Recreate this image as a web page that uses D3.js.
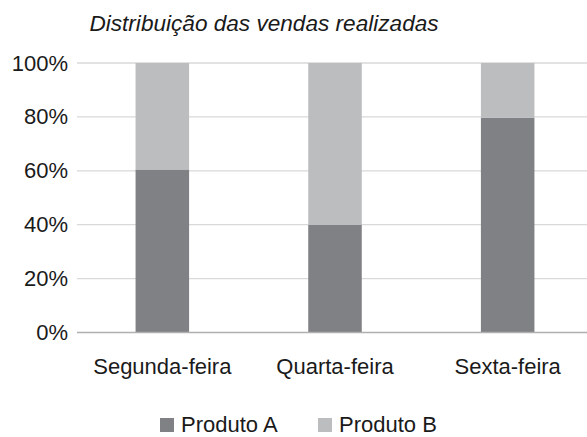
<!DOCTYPE html>
<html><head><meta charset="utf-8">
<script src="https://cdn.jsdelivr.net/npm/d3@7"></script>
<style>body{margin:0;background:#fff}svg{display:block}text{font-family:Arial,"Liberation Sans",Helvetica,sans-serif}</style>
</head><body>
<svg id="c" width="587" height="437"></svg>
<script>
const categories = ["Segunda-feira", "Quarta-feira", "Sexta-feira"];
const seriesNames = ["Produto A", "Produto B"];
const produtoA = [60.5, 40, 79.7];
const produtoB = [39.5, 60, 20.3];
const yTicks = [0, 20, 40, 60, 80, 100];
const colors = ["#808184", "#bcbdbf"];
const chartTitle = "Distribuição das vendas realizadas";

(function () {
const svg = d3.select("#c");
const pLeft = 76, pRight = 594, pTop = 63, pBottom = 332.5;

const x = d3.scaleBand().domain(categories).range([pLeft, pRight]).paddingInner(0.69).paddingOuter(0.345);
const y = d3.scaleLinear().domain([0, 100]).range([pBottom, pTop]);

// gridlines
svg.append("g").selectAll("line").data(yTicks.filter(t => t > 0)).join("line")
  .attr("x1", pLeft + 1).attr("x2", 587)
  .attr("y1", d => y(d)).attr("y2", d => y(d))
  .attr("stroke", "#d9d9d9").attr("stroke-width", 1.3);

// stacked bars
const table = categories.map((c, i) => ({cat: c, "Produto A": produtoA[i], "Produto B": produtoB[i]}));
const stack = d3.stack().keys(seriesNames)(table);
svg.append("g").selectAll("g").data(stack).join("g")
  .attr("fill", (d, i) => colors[i])
  .selectAll("rect").data(d => d).join("rect")
  .attr("x", d => x(d.data.cat))
  .attr("width", x.bandwidth())
  .attr("y", d => y(d[1]))
  .attr("height", d => y(d[0]) - y(d[1]));

// x axis line
svg.append("line").attr("x1", pLeft + 1).attr("x2", 587)
  .attr("y1", y(0)).attr("y2", y(0))
  .attr("stroke", "#b0b0b0").attr("stroke-width", 1.3);

// y axis labels
const yAxis = d3.axisLeft(y).tickValues(yTicks).tickFormat(d => d + "%").tickSize(0).tickPadding(8);
const ga = svg.append("g").attr("transform", `translate(${pLeft},0)`).call(yAxis);
ga.select(".domain").remove();
ga.attr("font-family", null);
ga.selectAll("text").attr("font-size", 22).attr("fill", "#1a1a1a");

// x axis labels
const xAxis = d3.axisBottom(x).tickSize(0).tickPadding(26);
const gx = svg.append("g").attr("transform", `translate(0,${pBottom})`).call(xAxis);
gx.select(".domain").remove();
gx.attr("font-family", null);
gx.selectAll("text").attr("font-size", 22).attr("fill", "#1a1a1a");

// title
svg.append("text").attr("x", 264).attr("y", 31).attr("text-anchor", "middle")
  .attr("font-size", 22.6).attr("font-style", "italic").attr("fill", "#1a1a1a")
  .text(chartTitle);

// legend
const legX = [160, 318];
const lg = svg.append("g").selectAll("g").data(seriesNames).join("g")
  .attr("transform", (d, i) => `translate(${legX[i]},0)`);
lg.append("rect").attr("x", 0).attr("y", 418).attr("width", 14).attr("height", 14)
  .attr("fill", (d, i) => colors[i]);
lg.append("text").attr("x", 21).attr("y", 432).attr("font-size", 22)
  .attr("fill", "#1a1a1a").text(d => d);
})();
</script>
</body></html>
